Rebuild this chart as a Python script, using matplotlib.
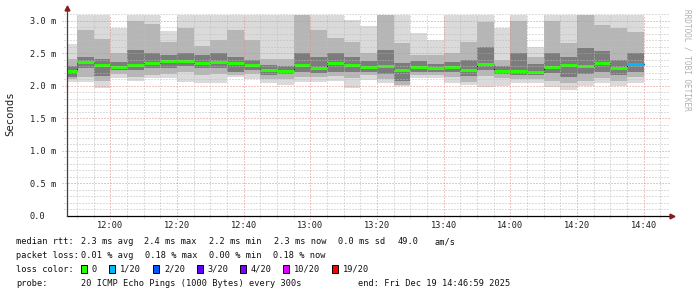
import matplotlib
matplotlib.use("Agg")
import matplotlib.pyplot as plt

# ---- data (ms) ----
col_start_min = list(range(11 * 60 + 45, 14 * 60 + 40, 5))  # 5-minute columns 11:45 .. 14:35
median = [2.224, 2.363, 2.317, 2.29, 2.32, 2.347, 2.383, 2.383, 2.357, 2.363, 2.345, 2.32,
          2.24, 2.235, 2.32, 2.275, 2.347, 2.32, 2.295, 2.30, 2.24, 2.29, 2.28, 2.29,
          2.24, 2.34, 2.224, 2.23, 2.21, 2.295, 2.317, 2.30, 2.357, 2.27, 2.33]
loss = [0] * 34 + [1]
hi1 = [2.65, 3.2, 3.2, 2.89, 3.2, 3.2, 2.84, 3.2, 3.2, 3.2, 3.2, 3.2, 3.2, 3.2, 3.2, 3.2, 3.2,
       3.02, 2.92, 3.2, 3.2, 2.81, 2.71, 3.2, 3.2, 3.2, 2.89, 3.2, 2.60, 3.2, 3.2, 3.2, 3.2, 3.2, 3.2]
hi2 = [2.42, 2.86, 2.72, 2.50, 3.0, 2.95, 2.68, 2.89, 2.62, 2.70, 2.86, 2.71, 2.42, 2.42, 3.1,
       2.86, 2.74, 2.68, 2.50, 3.1, 2.66, 2.48, 2.48, 2.50, 2.68, 2.99, 2.40, 3.0, 2.45, 3.0,
       2.66, 3.15, 2.94, 2.89, 2.83]
hi3 = [2.30, 2.45, 2.42, 2.36, 2.55, 2.50, 2.48, 2.50, 2.47, 2.50, 2.45, 2.40, 2.32, 2.30, 2.50,
       2.45, 2.50, 2.45, 2.38, 2.55, 2.35, 2.38, 2.34, 2.36, 2.40, 2.60, 2.30, 2.50, 2.33, 2.50,
       2.45, 2.58, 2.53, 2.40, 2.50]
lo3 = [2.13, 2.27, 2.15, 2.24, 2.25, 2.27, 2.28, 2.30, 2.27, 2.27, 2.22, 2.24, 2.17, 2.18, 2.22,
       2.20, 2.22, 2.22, 2.22, 2.19, 2.08, 2.22, 2.22, 2.22, 2.15, 2.25, 2.18, 2.17, 2.17, 2.20,
       2.14, 2.18, 2.22, 2.17, 2.22]
lo2 = [2.10, 2.14, 2.08, 2.19, 2.13, 2.17, 2.19, 2.22, 2.17, 2.19, 2.17, 2.18, 2.10, 2.10, 2.14,
       2.14, 2.15, 2.12, 2.16, 2.10, 2.02, 2.16, 2.16, 2.14, 2.06, 2.15, 2.12, 2.10, 2.10, 2.08,
       2.05, 2.08, 2.12, 2.08, 2.14]
lo1 = [2.06, 2.06, 1.96, 2.12, 2.07, 2.12, 2.12, 2.06, 2.04, 2.04, 2.14, 2.11, 2.04, 2.02, 2.06,
       2.06, 2.08, 1.96, 2.09, 2.04, 1.99, 2.12, 2.12, 2.05, 2.01, 1.98, 1.99, 2.04, 2.05, 1.98,
       1.93, 2.00, 2.04, 2.00, 2.05]

y_ticks = [0.0, 0.5, 1.0, 1.5, 2.0, 2.5, 3.0]
y_labels = ["0.0", "0.5 m", "1.0 m", "1.5 m", "2.0 m", "2.5 m", "3.0 m"]
x_ticks_min = list(range(12 * 60, 14 * 60 + 41, 20))
x_labels = ["12:00", "12:20", "12:40", "13:00", "13:20", "13:40", "14:00", "14:20", "14:40"]

loss_names = ["0", "1/20", "2/20", "3/20", "4/20", "10/20", "19/20"]
loss_colors = ["#26ff00", "#00b8ff", "#0059ff", "#5e00ff", "#7e00ff", "#dd00ff", "#ff0000"]

x_start, x_end = 11 * 60 + 47, 14 * 60 + 47
y_max = 3.1

W, H = 697, 297
MONO = "DejaVu Sans Mono"
FS = 6.2

fig = plt.figure(figsize=(W / 100, H / 100), dpi=100)
fig.patch.set_facecolor("white")
ax = fig.add_axes([67 / W, (H - 215.5) / H, 600 / W, 201 / H])
ax.set_xlim(x_start, x_end)
ax.set_ylim(0, y_max)
ax.set_facecolor("white")
for s in ax.spines.values():
    s.set_visible(False)

# smoke layers
layers = [(lo1, hi1, "#dadada"), (lo2, hi2, "#b6b6b6"), (lo3, hi3, "#7c7c7c")]
for lo, hi, col in layers:
    ax.bar(col_start_min, [h - l for h, l in zip(hi, lo)], bottom=lo, width=5, align="edge",
           color=col, linewidth=0, zorder=1)

# median
step_x = col_start_min + [col_start_min[-1] + 5]
ax.step(step_x, median + [median[-1]], where="post", color="#202020", lw=0.72, zorder=2)
for t, m, l in zip(col_start_min, median, loss):
    ax.hlines(m, t, t + 5, color=loss_colors[l], lw=2.2, zorder=3)

# grid
minor_c = "#bdbdbd"
major_c = "#e08c8c"
dots = (0, (1, 2))
for i in range(1, 32):
    yv = i * 0.1
    if i % 5 == 0:
        continue
    ax.axhline(yv, xmin=-0.005, xmax=1.004, color=minor_c, lw=0.72, ls=dots, clip_on=False, zorder=4)
for t in range(11 * 60 + 50, x_end, 5):
    if (t % 20) == 0:
        continue
    ax.axvline(t, ymin=-0.01, ymax=1, color=minor_c, lw=0.72, ls=dots, clip_on=False, zorder=4)
for yv in y_ticks[1:]:
    ax.axhline(yv, xmin=-0.008, xmax=1.004, color=major_c, lw=0.72, ls=dots, clip_on=False, zorder=4)
for t in x_ticks_min:
    ax.axvline(t, ymin=-0.015, ymax=1, color=major_c, lw=0.72, ls=dots, clip_on=False, zorder=4)

# axes lines and arrows
ax.plot([0, 1.008], [0, 0], transform=ax.transAxes, color="#000000", lw=0.9, clip_on=False, zorder=5)
ax.plot([0, 0], [0, 1.02], transform=ax.transAxes, color="#404040", lw=0.9, clip_on=False, zorder=5)
ax.plot([1.008], [0], transform=ax.transAxes, marker=">", color="#8b1a1a", ms=3.5, clip_on=False, zorder=6)
ax.plot([0], [1.03], transform=ax.transAxes, marker="^", color="#8b1a1a", ms=3.5, clip_on=False, zorder=6)

# ticks
ax.set_yticks(y_ticks)
ax.set_yticklabels(y_labels, fontfamily=MONO, fontsize=FS, ha="left", color="#202020")
ax.tick_params(axis="y", length=0, pad=(67 - 30) * 0.72)
ax.set_xticks(x_ticks_min)
ax.set_xticklabels(x_labels, fontfamily=MONO, fontsize=FS, color="#202020")
ax.tick_params(axis="x", length=0, pad=3.6)

fig.text(10.3 / W, (H - 114) / H, "Seconds", rotation=90, ha="center", va="center",
         fontfamily=MONO, fontsize=7.6, color="#202020")
fig.text(687 / W, (H - 60) / H, "RRDTOOL / TOBI OETIKER", rotation=270, ha="center", va="center",
         fontfamily=MONO, fontsize=5.6, color="#b0b0b0")

# legend rows
def txt(x, y, s):
    fig.text(x / W, (H - y) / H, s, ha="left", va="center", fontfamily=MONO, fontsize=FS, color="#101010")

r1, r2, r3, r4 = 241.7, 255.7, 269.3, 283.3
txt(16, r1, "median rtt:")
for x, s in [(80.7, "2.3 ms avg"), (144.3, "2.4 ms max"), (209.3, "2.2 ms min"), (274, "2.3 ms now"),
             (338.3, "0.0 ms sd"), (397.3, "49.0"), (434.3, "am/s")]:
    txt(x, r1, s)
txt(16, r2, "packet loss:")
for x, s in [(80.7, "0.01 % avg"), (145, "0.18 % max"), (209.3, "0.00 % min"), (273.3, "0.18 % now")]:
    txt(x, r2, s)
txt(16, r3, "loss color:")
box_x = [81, 109.3, 153, 196.7, 240, 283.3, 331.7]
for bx, name, col in zip(box_x, loss_names, loss_colors):
    fig.patches.append(plt.Rectangle((bx / W, (H - r3 - 4) / H), 6 / W, 8 / H, transform=fig.transFigure,
                                     facecolor=col, edgecolor="black", lw=0.7))
    txt(bx + 11, r3, name)
txt(16, r4, "probe:")
txt(80.7, r4, "20 ICMP Echo Pings (1000 Bytes) every 300s")
txt(358.3, r4, "end: Fri Dec 19 14:46:59 2025")

fig.savefig("out.png", dpi=100, facecolor="white")
